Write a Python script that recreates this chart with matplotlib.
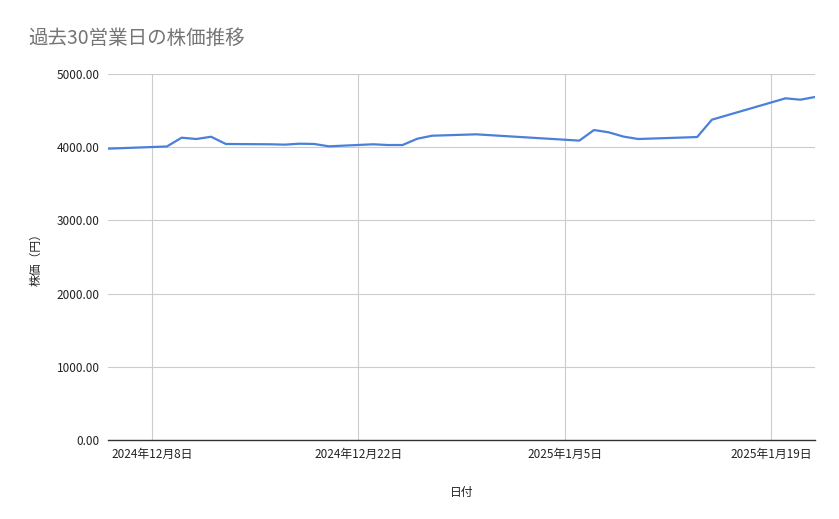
import numpy as np
import pandas as pd
import matplotlib
matplotlib.use('Agg')
import matplotlib.pyplot as plt
import matplotlib.dates as mdates
from matplotlib.ticker import FuncFormatter

plt.rcParams['font.family'] = ['Noto Sans CJK JP', 'DejaVu Sans']

dates = pd.to_datetime([
    '2024-12-05', '2024-12-09', '2024-12-10', '2024-12-11', '2024-12-12',
    '2024-12-13', '2024-12-16', '2024-12-17', '2024-12-18', '2024-12-19',
    '2024-12-20', '2024-12-23', '2024-12-24', '2024-12-25', '2024-12-26',
    '2024-12-27', '2024-12-30', '2025-01-06', '2025-01-07', '2025-01-08',
    '2025-01-09', '2025-01-10', '2025-01-14', '2025-01-15', '2025-01-20',
    '2025-01-21', '2025-01-22',
])
prices = [
    3980, 4010, 4130, 4112, 4143,
    4044, 4040, 4035, 4048, 4044,
    4012, 4040, 4030, 4030, 4116,
    4157, 4176, 4090, 4235, 4203,
    4145, 4112, 4139, 4376, 4668,
    4649, 4686,
]
tick_dates = pd.to_datetime(['2024-12-08', '2024-12-22', '2025-01-05', '2025-01-19'])
tick_labels = ['2024年12月8日', '2024年12月22日', '2025年1月5日', '2025年1月19日']

fig = plt.figure(figsize=(8.39, 5.19), dpi=100)
ax = fig.add_axes([0.1287, 0.1522, 0.8427, 0.7052])

ax.plot(dates, prices, color='#4a80d9', lw=1.6)

ax.set_xlim(pd.Timestamp('2024-12-05'), pd.Timestamp('2025-01-22'))
ax.set_ylim(0, 5000)
ax.set_yticks([0, 1000, 2000, 3000, 4000, 5000])
ax.yaxis.set_major_formatter(FuncFormatter(lambda v, p: f'{v:.2f}'))
ax.set_xticks(tick_dates)
ax.set_xticklabels(tick_labels)

ax.grid(True, color='#cccccc', lw=0.8)
ax.set_axisbelow(True)
for s in ['top', 'right', 'left']:
    ax.spines[s].set_visible(False)
ax.spines['bottom'].set_color('#333333')
ax.spines['bottom'].set_linewidth(1.0)
ax.tick_params(axis='both', length=0, labelsize=8.5, colors='#222222')
ax.tick_params(axis='x', pad=6)
ax.tick_params(axis='y', pad=6)

ax.set_xlabel('日付', fontsize=8.5, color='#222222', labelpad=18)
ax.set_ylabel('株価（円）', fontsize=8.5, color='#222222', labelpad=10)

fig.text(0.0335, 0.925, '過去30営業日の株価推移', fontsize=14, color='#757575',
         ha='left', va='center')

fig.savefig('out.png', dpi=100)
